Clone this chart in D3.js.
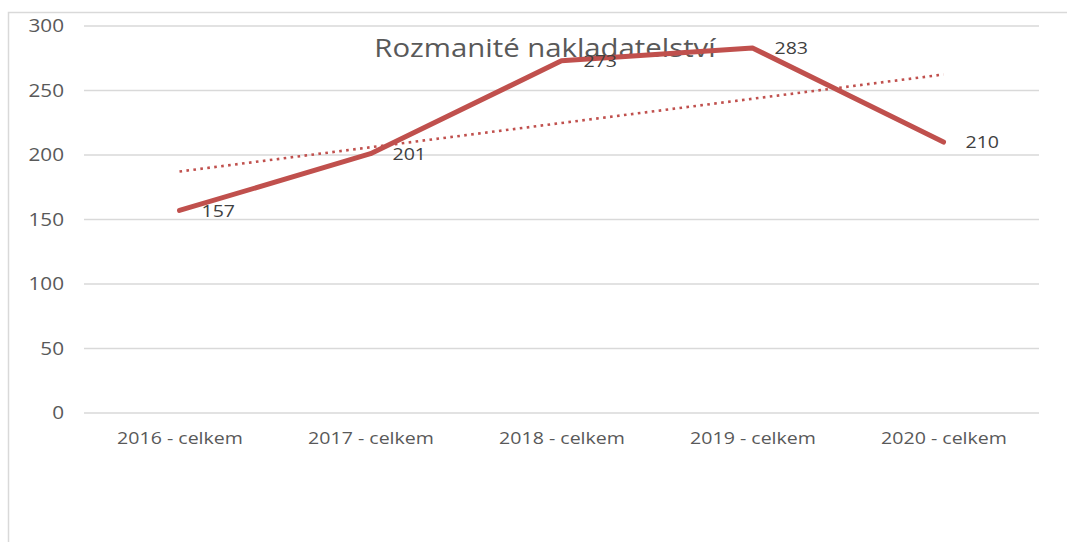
<!DOCTYPE html>
<html><head><meta charset="utf-8">
<script src="https://cdn.jsdelivr.net/npm/d3@7"></script>
<style>html,body{margin:0;padding:0;background:#fff;}svg{display:block;}</style>
</head><body>
<script>
const categories = ["2016 - celkem","2017 - celkem","2018 - celkem","2019 - celkem","2020 - celkem"];
const values = [157, 201, 273, 283, 210];
const yTicks = [0, 50, 100, 150, 200, 250, 300];
const title = "Rozmanité nakladatelství";

const W = 1067, H = 542;
const svg = d3.select("body").append("svg").attr("width", W).attr("height", H);
const font = "'Open Sans', 'Noto Sans', sans-serif";
const stretch = 1.15;

// chart frame
svg.append("path").attr("d", `M8.5,${H} L8.5,12.5 L${W},12.5`)
  .attr("fill","none").attr("stroke","#d9d9d9").attr("stroke-width",1.5);

const x = d3.scalePoint().domain(categories).range([84, 1039]).padding(0.5);
const y = d3.scaleLinear().domain([0, 300]).range([413, 26]);

// gridlines
svg.append("g").selectAll("line").data(yTicks).join("line")
  .attr("x1", 84).attr("x2", 1039)
  .attr("y1", d => y(d)).attr("y2", d => y(d))
  .attr("stroke", "#d9d9d9").attr("stroke-width", 1.3);

// y axis labels
const yAxis = svg.append("g").attr("transform", "translate(64,0)")
  .call(d3.axisLeft(y).tickValues(yTicks).tickSize(0).tickPadding(0));
yAxis.select(".domain").remove();
yAxis.selectAll("text").attr("font-family", font).attr("font-size", 18).attr("fill", "#595959");

// x axis labels
const xAxis = svg.append("g").attr("transform", "translate(0,432)")
  .call(d3.axisBottom(x).tickSize(0).tickPadding(0));
xAxis.select(".domain").remove();
xAxis.selectAll("text").attr("font-family", font).attr("font-size", 17).attr("fill", "#595959");

// trendline (linear regression of the series)
const n = values.length;
const xi = values.map((_, i) => i + 1);
const mx = d3.mean(xi), my = d3.mean(values);
const slope = d3.sum(xi.map((v, i) => (v - mx) * (values[i] - my))) / d3.sum(xi.map(v => (v - mx) ** 2));
const icpt = my - slope * mx;
const trend = [[categories[0], icpt + slope * 1], [categories[n - 1], icpt + slope * n]];

// title
svg.append("text").attr("x", 545).attr("y", 57).attr("text-anchor", "middle")
  .attr("font-family", font).attr("font-size", 25.5).attr("fill", "#595959").text(title);

svg.append("path").datum(trend)
  .attr("d", d3.line().x(d => x(d[0])).y(d => y(d[1])))
  .attr("fill", "none").attr("stroke", "#c0504d").attr("stroke-width", 2.6)
  .attr("stroke-dasharray", "2.6 4.4");

// main line
svg.append("path").datum(values)
  .attr("d", d3.line().x((d, i) => x(categories[i])).y(d => y(d)))
  .attr("fill", "none").attr("stroke", "#c0504d").attr("stroke-width", 5)
  .attr("stroke-linecap", "round").attr("stroke-linejoin", "round");

// data labels
svg.append("g").selectAll("text").data(values).join("text")
  .attr("x", (d, i) => x(categories[i]) + 22)
  .attr("y", d => y(d))
  .attr("dy", "0.36em")
  .attr("font-family", font).attr("font-size", 17).attr("fill", "#404040")
  .text(d => d);

// reference text is slightly wider than it is tall: stretch glyphs horizontally
svg.selectAll("text").each(function () {
  const L = this.getComputedTextLength();
  this.setAttribute("textLength", L * stretch);
  this.setAttribute("lengthAdjust", "spacingAndGlyphs");
});
</script>
</body></html>
